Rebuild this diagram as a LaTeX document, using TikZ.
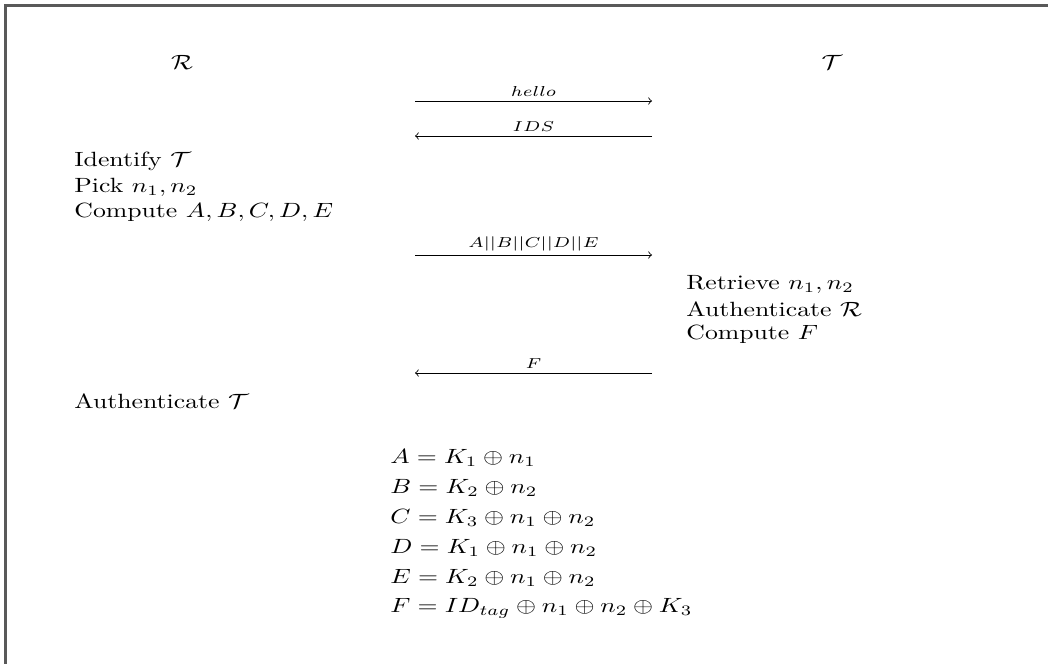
\documentclass[tikz,border=0pt]{standalone}
\newcommand{\hs}[1]{\scalebox{1.25}[1]{#1}}
\begin{document}
\begin{tikzpicture}[x=0.4854pt,y=-0.4854pt,
  party/.style={inner sep=0pt},
  stepline/.style={anchor=west,inner sep=0pt},
  eqline/.style={anchor=west,inner sep=0pt},
  msg/.style={->,line width=0.4pt},
  msglabel/.style={above,inner sep=1.8pt,font=\scriptsize}]
\useasboundingbox (0,0) rectangle (1048,664);
\draw[gray!70!black,line width=1pt] (5.5,700) -- (5.5,5.5) -- (1100,5.5);
% parties
\node[party] (R) at (182,62) {\hs{$\mathcal{R}$}};
\node[party] (T) at (832,62) {\hs{$\mathcal{T}$}};
% messages
\coordinate (hL) at (415,101); \coordinate (hR) at (652,101);
\draw[msg] (hL) -- node[msglabel] (hello) {\hs{$hello$}} (hR);
\coordinate (iL) at (415,136); \coordinate (iR) at (652,136);
\draw[msg] (iR) -- node[msglabel] (ids) {\hs{$IDS$}} (iL);
\node[stepline] (r1) at (74,161) {\hs{Identify $\mathcal{T}$}};
\node[stepline] (r2) at (74,187) {\hs{Pick $n_1,n_2$}};
\node[stepline] (r3) at (74,212) {\hs{Compute $A,B,C,D,E$}};
\coordinate (aL) at (415,255); \coordinate (aR) at (652,255);
\draw[msg] (aL) -- node[msglabel] (abcde) {\hs{$A||B||C||D||E$}} (aR);
\node[stepline] (t1) at (686,284) {\hs{Retrieve $n_1,n_2$}};
\node[stepline] (t2) at (686,309) {\hs{Authenticate $\mathcal{R}$}};
\node[stepline] (t3) at (686,334) {\hs{Compute $F$}};
\coordinate (fL) at (415,373); \coordinate (fR) at (652,373);
\draw[msg] (fR) -- node[msglabel] (flab) {\hs{$F$}} (fL);
\node[stepline] (r4) at (74,401) {\hs{Authenticate $\mathcal{T}$}};
% equations
\node[eqline] (e1) at (390,458) {\hs{$A = K_1 \oplus n_1$}};
\node[eqline] (e2) at (390,488) {\hs{$B = K_2 \oplus n_2$}};
\node[eqline] (e3) at (390,518) {\hs{$C = K_3 \oplus n_1 \oplus n_2$}};
\node[eqline] (e4) at (390,548) {\hs{$D = K_1 \oplus n_1 \oplus n_2$}};
\node[eqline] (e5) at (390,578) {\hs{$E = K_2 \oplus n_1 \oplus n_2$}};
\node[eqline] (e6) at (390,608) {\hs{$F = ID_{tag} \oplus n_1 \oplus n_2 \oplus K_3$}};
\end{tikzpicture}
\end{document}
